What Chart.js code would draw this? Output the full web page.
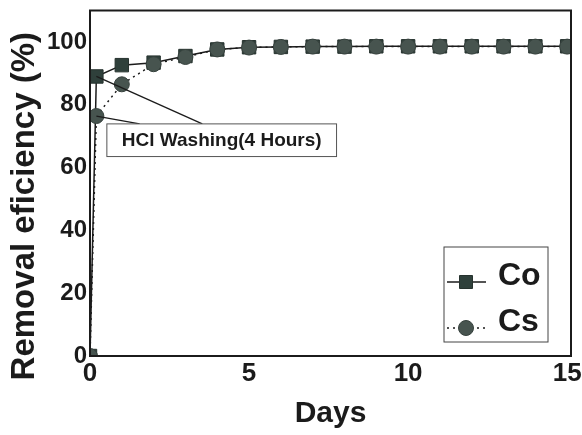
<!DOCTYPE html>
<html>
<head>
<meta charset="utf-8">
<script src="https://cdn.jsdelivr.net/npm/chart.js@4.4.0/dist/chart.umd.min.js"></script>
<style>
  html, body { margin: 0; padding: 0; background: #ffffff; }
  #wrap { width: 582px; height: 435px; }
</style>
</head>
<body>
<div id="wrap"><canvas id="c" width="582" height="435"></canvas></div>
<script>
// ---- data ----
const days = [0, 0.2, 1, 2, 3, 4, 5, 6, 7, 8, 9, 10, 11, 12, 13, 14, 15];
const coValues = [0, 89.0, 92.6, 93.4, 95.5, 97.6, 98.3, 98.4, 98.5, 98.5, 98.6, 98.6, 98.6, 98.6, 98.6, 98.6, 98.6];
const csValues = [0, 76.4, 86.5, 92.9, 95.2, 97.6, 98.2, 98.4, 98.5, 98.5, 98.5, 98.5, 98.5, 98.5, 98.5, 98.5, 98.5];
const seriesNames = ['Co', 'Cs'];
const xTicks = [0, 5, 10, 15];
const yTicks = [0, 20, 40, 60, 80, 100];
const xTitle = 'Days';
const yTitle = 'Removal eficiency (%)\u00a0\u00a0\u00a0\u00a0\u00a0';
const noteText = 'HCl Washing(4 Hours)';
// annotation box and leader-line targets, in data units
const noteBox = { x0: 0.53, x1: 7.75, yTop: 73.9, yBottom: 63.5 };
const noteTargets = [
  { series: 0, index: 1, x: 3.53, y: 73.9 },
  { series: 1, index: 1, x: 1.56, y: 73.9 }
];

const FONT = "'Liberation Sans', Arial, sans-serif";
const INK = '#1b1b1b';
const MARK = '#2f403b';
const MARK2 = '#47544f';

const toPts = (xs, ys) => xs.map((x, i) => ({ x: x, y: ys[i] }));

const frame = {
  id: 'frame',
  afterDatasetsDraw(chart) {
    const { ctx, chartArea: a } = chart;
    ctx.save();
    ctx.strokeStyle = INK;
    ctx.lineWidth = 2;
    ctx.strokeRect(a.left, a.top, a.right - a.left, a.bottom - a.top);
    ctx.restore();
  }
};

const note = {
  id: 'note',
  afterDatasetsDraw(chart) {
    const { ctx } = chart;
    const xs = chart.scales.x, ys = chart.scales.y;
    ctx.save();
    ctx.strokeStyle = INK;
    ctx.lineWidth = 1.3;
    noteTargets.forEach(t => {
      const el = chart.getDatasetMeta(t.series).data[t.index];
      ctx.beginPath();
      ctx.moveTo(el.x, el.y);
      ctx.lineTo(xs.getPixelForValue(t.x), ys.getPixelForValue(t.y));
      ctx.stroke();
    });
    const x0 = xs.getPixelForValue(noteBox.x0), x1 = xs.getPixelForValue(noteBox.x1);
    const y0 = ys.getPixelForValue(noteBox.yTop), y1 = ys.getPixelForValue(noteBox.yBottom);
    ctx.fillStyle = '#ffffff';
    ctx.fillRect(x0, y0, x1 - x0, y1 - y0);
    ctx.strokeStyle = '#555';
    ctx.lineWidth = 1;
    ctx.strokeRect(x0, y0, x1 - x0, y1 - y0);
    ctx.fillStyle = INK;
    ctx.font = 'bold 19px ' + FONT;
    ctx.textAlign = 'center';
    ctx.textBaseline = 'middle';
    ctx.fillText(noteText, (x0 + x1) / 2, (y0 + y1) / 2 + 1);
    ctx.restore();
  }
};

const legendBox = {
  id: 'legendBox',
  afterDatasetsDraw(chart) {
    const { ctx, chartArea: a } = chart;
    const bx0 = a.right - 127, bx1 = a.right - 23;
    const by0 = a.bottom - 109, by1 = a.bottom - 14;
    ctx.save();
    ctx.fillStyle = '#ffffff';
    ctx.fillRect(bx0, by0, bx1 - bx0, by1 - by0);
    ctx.strokeStyle = '#444';
    ctx.lineWidth = 1;
    ctx.strokeRect(bx0, by0, bx1 - bx0, by1 - by0);
    const rows = [by0 + 35, by0 + 81];
    chart.data.datasets.forEach((ds, i) => {
      const y = rows[i];
      ctx.strokeStyle = ds.borderColor;
      ctx.lineWidth = ds.borderWidth;
      ctx.setLineDash(ds.borderDash || []);
      ctx.beginPath();
      ctx.moveTo(bx0 + 3, y);
      ctx.lineTo(bx0 + 42, y);
      ctx.stroke();
      ctx.setLineDash([]);
      const cx = bx0 + 22;
      ctx.fillStyle = ds.pointBackgroundColor;
      ctx.strokeStyle = ds.pointBorderColor;
      ctx.lineWidth = 1;
      ctx.beginPath();
      if (ds.pointStyle === 'rect') {
        ctx.rect(cx - 6.5, y - 6.5, 13, 13);
      } else {
        ctx.arc(cx, y, 7.5, 0, Math.PI * 2);
      }
      ctx.fill();
      ctx.stroke();
      ctx.fillStyle = INK;
      ctx.font = 'bold 32px ' + FONT;
      ctx.textAlign = 'left';
      ctx.textBaseline = 'middle';
      ctx.fillText(ds.label, bx0 + 54, y - 6);
    });
    ctx.restore();
  }
};

new Chart(document.getElementById('c'), {
  type: 'line',
  data: {
    datasets: [
      {
        label: seriesNames[0],
        data: toPts(days, coValues),
        borderColor: INK,
        borderWidth: 1.5,
        pointStyle: 'rect',
        pointRadius: 9.5,
        pointBackgroundColor: MARK,
        pointBorderColor: '#26322e',
        pointBorderWidth: 1,
        tension: 0,
        order: 2
      },
      {
        label: seriesNames[1],
        data: toPts(days, csValues),
        borderColor: INK,
        borderWidth: 1.5,
        borderDash: [2, 4],
        pointStyle: 'circle',
        pointRadius: 7.5,
        pointBackgroundColor: MARK2,
        pointBorderColor: '#36413d',
        pointBorderWidth: 1,
        tension: 0,
        order: 1
      }
    ]
  },
  options: {
    responsive: false,
    animation: false,
    layout: { padding: { top: 7, right: 11, left: 0, bottom: 0 } },
    plugins: { legend: { display: false }, tooltip: { enabled: false } },
    scales: {
      x: {
        type: 'linear',
        min: 0, max: 15.12,
        afterFit(s) { s.height = 79; s.paddingLeft = 0; s.paddingRight = 0; },
        afterBuildTicks(s) { s.ticks = xTicks.map(v => ({ value: v })); },
        grid: { display: false, drawTicks: false },
        border: { display: true, color: INK, width: 2 },
        ticks: { color: INK, padding: 2, font: { family: FONT, size: 26, weight: 'bold' } },
        title: { display: true, text: xTitle, color: INK, padding: { top: 0, bottom: 3 },
                 font: { family: FONT, size: 30, weight: 'bold' } }
      },
      y: {
        type: 'linear',
        min: 0, max: 110,
        afterFit(s) { s.width = 90; s.paddingTop = 0; s.paddingBottom = 0; },
        afterBuildTicks(s) { s.ticks = yTicks.map(v => ({ value: v })); },
        grid: { display: false, drawTicks: false },
        border: { display: true, color: INK, width: 2 },
        ticks: { color: INK, padding: 3, font: { family: FONT, size: 24, weight: 'bold' } },
        title: { display: true, text: yTitle, color: INK, padding: { top: 5, bottom: 0 },
                 font: { family: FONT, size: 33, weight: 'bold' } }
      }
    }
  },
  plugins: [frame, note, legendBox]
});
</script>
</body>
</html>
